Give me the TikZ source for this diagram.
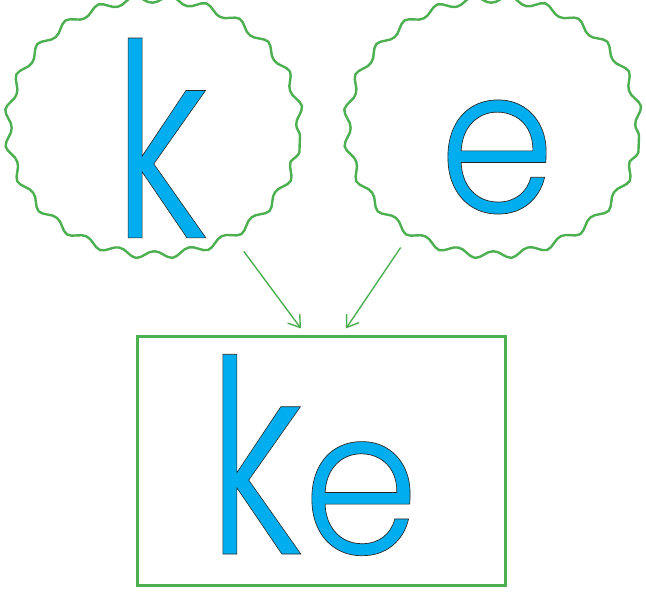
\documentclass[tikz,border=0pt]{standalone}
\usepackage{fontspec}
\usepackage{graphicx}
\usetikzlibrary{arrows.meta,decorations.pathmorphing,shapes.geometric}
\newfontfamily\glyphfont{Poppins}[UprightFont={* Light}]
\definecolor{leafgreen}{RGB}{76,175,80}
\definecolor{inkblue}{RGB}{0,174,239}
% blue glyphs with a thin dark outline
\newcommand{\glyph}[1]{\textcolor{inkblue}{%
  \special{pdf:literal direct 0.15 0.15 0.15 RG 0.7 w 2 Tr}#1%
  \special{pdf:literal direct 0 Tr}}}
\newcommand{\kchar}{\glyph{\scalebox{0.74}[1]{k}}}
\newcommand{\echar}{{\fontsize{203}{203}\selectfont\glyph{\scalebox{0.92}[1]{e}}}}

\begin{document}
\begin{tikzpicture}[x=1pt,y=1pt,
  >={Straight Barb[length=11pt,width=15pt]},
  bubble/.style={draw=leafgreen, line width=2.4pt, ellipse,
    minimum width=292pt, minimum height=256pt,
    decorate, decoration={snake, segment length=35.8pt, amplitude=3.8pt}},
  letter/.style={inner sep=0pt, font=\glyphfont\fontsize{270}{270}\selectfont},
  frame/.style={draw=leafgreen, line width=3pt,
    minimum width=368pt, minimum height=249pt, inner sep=0pt},
  link/.style={->, draw=leafgreen, line width=1.4pt}]

  \useasboundingbox (0,0) rectangle (646,593);

  % the two letters
  \node[bubble] (kb) at (154,457) {};
  \node[bubble] (eb) at (493,457) {};
  \node[letter] (kl) at (160,455) {\kchar};
  \node[letter] (el) at (497,436) {\echar};

  % the syllable
  \node[frame] (box) at (321,131.5) {};
  \node[letter] (kel) at (313,138) {\kchar\echar};

  \draw[link, shorten <=11pt] (kb.-52) -- ([shift={(-20pt,7pt)}]box.north);
  \draw[link, shorten <=9pt] (eb.230) -- ([shift={(25pt,7pt)}]box.north);
\end{tikzpicture}
\end{document}
